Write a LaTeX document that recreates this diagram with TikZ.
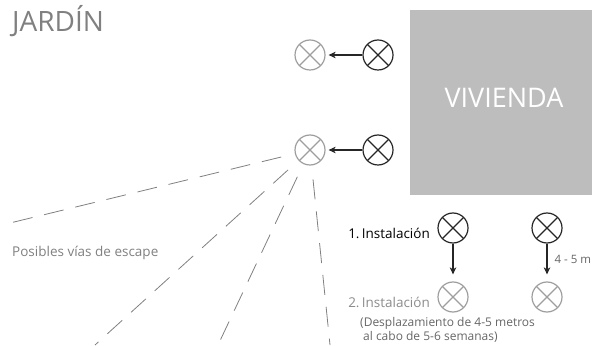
\documentclass[tikz,border=0pt]{standalone}
\usepackage{fontspec}
\setmainfont{Open Sans}
\usetikzlibrary{arrows.meta,positioning}

\begin{document}
\begin{tikzpicture}[x=1pt,y=1pt,>={Stealth[length=7pt,width=6.5pt,inset=2pt]},shorten >=3pt,auto,node distance=68pt,on grid,
    lamp/.style={circle,draw,color=#1,line width=1.2pt,minimum size=30pt,inner sep=0pt,
      path picture={\draw[line width=1.2pt] (path picture bounding box.north west) -- (path picture bounding box.south east)
        (path picture bounding box.north east) -- (path picture bounding box.south west);}},
    lamp/.default=black!85,
    route/.style={draw=black!50,line width=0.8pt,dash pattern=on 20pt off 12pt,shorten <=14pt,shorten >=0pt},
    lbl/.style={inner sep=0pt,font=\fontsize{13.5}{15}\selectfont}]
  \useasboundingbox (0,0) rectangle (596,345);

  \node[lbl, anchor=base west, text=black!50, font=\fontsize{28}{30}\selectfont] (jardin) at (12,313) {JARDÍN};
  \node[fill=black!26, minimum width=182pt, minimum height=185pt, inner sep=0pt] (viv) at (501,242.5) {};
  \node[lbl, text=white, font=\fontsize{27}{30}\selectfont] (vivtxt) at (504,247.5) {VIVIENDA};

  \node[lamp=black!38] (g2) at (310,195) {};
  \node[lamp]          (b2) [right=of g2] {};
  \node[lamp=black!38] (g1) [above=95pt of g2] {};
  \node[lamp]          (b1) [right=of g1] {};
  \node[lamp]          (b3) at (453,117) {};
  \node[lamp]          (b4) [right=94pt of b3] {};
  \node[lamp=black!38] (g3) [below=69pt of b3] {};
  \node[lamp=black!38] (g4) [below=69pt of b4] {};

  \coordinate (e1) at (10,122);
  \coordinate (e2) at (95,0);
  \coordinate (e3) at (218,0);
  \coordinate (e4) at (330,0);

  \path[->, line width=1.2pt, black!85]
        (b1) edge (g1)
        (b2) edge (g2)
        (b3) edge[shorten >=7pt] (g3)
        (b4) edge[shorten >=7pt] node[lbl, text=black!60, xshift=7pt, yshift=3.5pt, font=\fontsize{11.5}{13}\selectfont] {4 - 5 m} (g4);

  \draw[route] (g2) -- (e1);
  \draw[route] (g2) -- (e2);
  \draw[route] (g2) -- (e3);
  \draw[route] (g2) -- (e4);

  \node[lbl, anchor=west, text=black!50] (vias) at (12,92) {Posibles vías de escape};
  \node[lbl, anchor=east, text=black] (ins1) at (430,112) {1.\,Instalación};
  \node[lbl, anchor=east, text=black!45] (ins2) at (430,43) {2.\,Instalación};
  \node[lbl, anchor=north west, text=black!60, align=left, font=\fontsize{12}{14}\selectfont] (nota) at (360,28)
       {(Desplazamiento de 4-5 metros\\ \hspace*{3pt}al cabo de 5-6 semanas)};
\end{tikzpicture}
\end{document}
